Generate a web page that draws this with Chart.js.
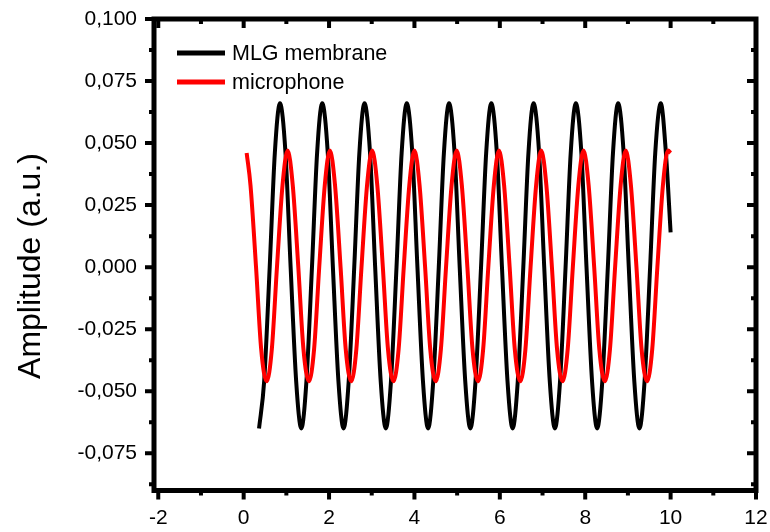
<!DOCTYPE html>
<html>
<head>
<meta charset="utf-8">
<script src="https://cdn.jsdelivr.net/npm/chart.js@4.4.1/dist/chart.umd.min.js"></script>
<style>
  html, body { margin: 0; padding: 0; background: #fff; }
  #wrap { width: 770px; height: 532px; }
</style>
</head>
<body>
<div id="wrap"><canvas id="signal" width="770" height="532"></canvas></div>
<script>
const FONT = "'Liberation Sans', Arial, sans-serif";

const xTicks = [-2, 0, 2, 4, 6, 8, 10, 12];
const yTicks = [-0.075, -0.05, -0.025, 0, 0.025, 0.05, 0.075, 0.1];
const yTitle = "Amplitude (a.u.)";
const seriesNames = ["MLG membrane", "microphone"];
const seriesColors = ["#000000", "#ff0000"];

// membrane signal
const membraneTime = [
  0.36, 0.48, 0.61, 0.73, 0.85, 0.98, 1.10, 1.23,
  1.35, 1.47, 1.60, 1.72, 1.84, 1.97, 2.09, 2.22,
  2.34, 2.46, 2.59, 2.71, 2.83, 2.96, 3.08, 3.21,
  3.33, 3.45, 3.58, 3.70, 3.82, 3.95, 4.07, 4.20,
  4.32, 4.44, 4.57, 4.69, 4.81, 4.94, 5.06, 5.19,
  5.31, 5.43, 5.56, 5.68, 5.80, 5.93, 6.05, 6.18,
  6.30, 6.42, 6.55, 6.67, 6.79, 6.92, 7.04, 7.17,
  7.29, 7.41, 7.54, 7.66, 7.78, 7.91, 8.03, 8.16,
  8.28, 8.40, 8.53, 8.65, 8.77, 8.90, 9.02, 9.15,
  9.27, 9.39, 9.52, 9.64, 9.77, 9.89, 10.00
];
const membraneAmp = [
  -0.065, -0.046, 0.000, 0.046, 0.066, 0.046, 0.000, -0.046,
  -0.065, -0.046, 0.000, 0.046, 0.066, 0.046, 0.000, -0.046,
  -0.065, -0.046, 0.000, 0.046, 0.066, 0.046, 0.000, -0.046,
  -0.065, -0.046, 0.000, 0.046, 0.066, 0.046, 0.000, -0.046,
  -0.065, -0.046, 0.000, 0.046, 0.066, 0.046, 0.000, -0.046,
  -0.065, -0.046, 0.000, 0.046, 0.066, 0.046, 0.000, -0.046,
  -0.065, -0.046, 0.000, 0.046, 0.066, 0.046, 0.000, -0.046,
  -0.065, -0.046, 0.000, 0.046, 0.066, 0.046, 0.000, -0.046,
  -0.065, -0.046, 0.000, 0.046, 0.066, 0.046, 0.000, -0.046,
  -0.065, -0.046, 0.000, 0.046, 0.066, 0.046, 0.014
];

// reference microphone
const micTime = [
  0.07, 0.16, 0.29, 0.41, 0.54, 0.66, 0.78, 0.91,
  1.03, 1.15, 1.28, 1.40, 1.53, 1.65, 1.77, 1.90,
  2.02, 2.14, 2.27, 2.39, 2.52, 2.64, 2.76, 2.89,
  3.01, 3.13, 3.26, 3.38, 3.51, 3.63, 3.75, 3.88,
  4.00, 4.12, 4.25, 4.37, 4.50, 4.62, 4.74, 4.87,
  4.99, 5.11, 5.24, 5.36, 5.49, 5.61, 5.73, 5.86,
  5.98, 6.10, 6.23, 6.35, 6.48, 6.60, 6.72, 6.85,
  6.97, 7.09, 7.22, 7.34, 7.47, 7.59, 7.71, 7.84,
  7.96, 8.08, 8.21, 8.33, 8.46, 8.58, 8.70, 8.83,
  8.95, 9.07, 9.20, 9.32, 9.45, 9.57, 9.69, 9.82,
  9.94, 10.00
];
const micAmp = [
  0.046, 0.033, 0.000, -0.033, -0.046, -0.033, 0.000, 0.033,
  0.047, 0.033, 0.000, -0.033, -0.046, -0.033, 0.000, 0.033,
  0.047, 0.033, 0.000, -0.033, -0.046, -0.033, 0.000, 0.033,
  0.047, 0.033, 0.000, -0.033, -0.046, -0.033, 0.000, 0.033,
  0.047, 0.033, 0.000, -0.033, -0.046, -0.033, 0.000, 0.033,
  0.047, 0.033, 0.000, -0.033, -0.046, -0.033, 0.000, 0.033,
  0.047, 0.033, 0.000, -0.033, -0.046, -0.033, 0.000, 0.033,
  0.047, 0.033, 0.000, -0.033, -0.046, -0.033, 0.000, 0.033,
  0.047, 0.033, 0.000, -0.033, -0.046, -0.033, 0.000, 0.033,
  0.047, 0.033, 0.000, -0.033, -0.046, -0.033, 0.000, 0.033,
  0.047, 0.046
];

function toPoints(xs, ys) {
  return xs.map((x, i) => ({ x: x, y: ys[i] }));
}

function midpoints(values) {
  const out = [];
  for (let i = 0; i < values.length - 1; i++) {
    out.push((values[i] + values[i + 1]) / 2);
  }
  return out;
}

// boxed frame with ticks: outside on left/bottom, inside on top/right
const framePlugin = {
  id: "frame",
  afterDatasetsDraw(chart) {
    const { ctx, chartArea: a, scales } = chart;
    const major = 9, minor = 5;
    ctx.save();
    ctx.strokeStyle = "#000";
    ctx.lineCap = "butt";

    ctx.lineWidth = 5;
    ctx.strokeRect(a.left, a.top, a.right - a.left, a.bottom - a.top);

    ctx.lineWidth = 4;
    const xMinor = midpoints(xTicks);
    const yMinor = midpoints(yTicks).concat([yTicks[0] - 0.0125]);

    function xMark(v, len) {
      const px = scales.x.getPixelForValue(v);
      ctx.beginPath();
      ctx.moveTo(px, a.bottom); ctx.lineTo(px, a.bottom + len);
      ctx.moveTo(px, a.top); ctx.lineTo(px, a.top + len);
      ctx.stroke();
    }
    function yMark(v, len) {
      const py = scales.y.getPixelForValue(v);
      ctx.beginPath();
      ctx.moveTo(a.left, py); ctx.lineTo(a.left - len, py);
      ctx.moveTo(a.right, py); ctx.lineTo(a.right - len, py);
      ctx.stroke();
    }
    xTicks.forEach(v => xMark(v, major));
    xMinor.forEach(v => xMark(v, minor));
    yTicks.forEach(v => yMark(v, major));
    yMinor.forEach(v => yMark(v, minor));

    // y axis title
    ctx.fillStyle = "#000";
    ctx.font = "32px " + FONT;
    ctx.textAlign = "center";
    ctx.textBaseline = "middle";
    ctx.translate(31, 266);
    ctx.rotate(-Math.PI / 2);
    ctx.fillText(yTitle, 0, 0);
    ctx.restore();

    // legend, top left inside the frame
    ctx.save();
    ctx.font = "21.5px " + FONT;
    ctx.textAlign = "left";
    ctx.textBaseline = "middle";
    seriesNames.forEach((name, i) => {
      const y = 53 + i * 29;
      ctx.strokeStyle = seriesColors[i];
      ctx.lineWidth = 5;
      ctx.beginPath();
      ctx.moveTo(177, y);
      ctx.lineTo(225, y);
      ctx.stroke();
      ctx.fillStyle = "#000";
      ctx.fillText(name, 232, y + 1);
    });
    ctx.restore();
  }
};

const tickFont = { family: FONT, size: 21 };

new Chart(document.getElementById("signal"), {
  type: "line",
  data: {
    datasets: [
      {
        label: seriesNames[0],
        data: toPoints(membraneTime, membraneAmp),
        borderColor: seriesColors[0],
        borderWidth: 4,
        pointRadius: 0,
        cubicInterpolationMode: "monotone",
        order: 1
      },
      {
        label: seriesNames[1],
        data: toPoints(micTime, micAmp),
        borderColor: seriesColors[1],
        borderWidth: 4,
        pointRadius: 0,
        cubicInterpolationMode: "monotone",
        order: 0
      }
    ]
  },
  options: {
    responsive: false,
    animation: false,
    devicePixelRatio: 1,
    layout: { padding: { top: 19, right: 14, left: 0, bottom: 0 } },
    plugins: { legend: { display: false }, tooltip: { enabled: false } },
    scales: {
      x: {
        type: "linear",
        min: -2.1,
        max: 12,
        afterBuildTicks: (s) => { s.ticks = xTicks.map(v => ({ value: v })); },
        afterFit: (s) => {
          s.height = 41.5;
          s.paddingLeft = 0;
          s.paddingRight = 0;
        },
        grid: { display: false, drawTicks: false },
        border: { display: false },
        ticks: { font: tickFont, color: "#000", padding: 15, maxRotation: 0, autoSkip: false }
      },
      y: {
        type: "linear",
        min: -0.09,
        max: 0.1,
        afterBuildTicks: (s) => { s.ticks = yTicks.map(v => ({ value: v })); },
        afterFit: (s) => {
          s.width = 154;
          s.paddingTop = 0;
          s.paddingBottom = 0;
        },
        grid: { display: false, drawTicks: false },
        border: { display: false },
        ticks: {
          font: tickFont,
          color: "#000",
          padding: 17,
          autoSkip: false,
          callback: (v) => v.toFixed(3).replace(".", ",")
        }
      }
    }
  },
  plugins: [framePlugin]
});
</script>
</body>
</html>
